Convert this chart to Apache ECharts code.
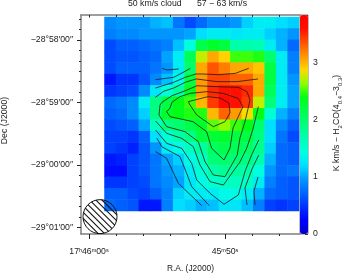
<!DOCTYPE html>
<html>
<head>
<meta charset="utf-8">
<style>html,body{margin:0;padding:0;background:#fff}#c{width:342px;height:273px}</style>
<script src="https://cdn.jsdelivr.net/npm/echarts@6/dist/echarts.min.js"></script>
</head>
<body>
<div id="c"></div>
<script>
// Integrated intensity (K km/s), one row per declination, top row first, columns in increasing pixel x
var row00=[.9,.95,.95,.95,1.05,1.1,.8,.6,.75,.9,.9,.95,1.15,1.3,1.3,1.2,1.15];
var row01=[.85,.9,.9,.95,.95,.95,.95,1.0,1.2,1.3,1.3,1.25,1.3,1.3,1.15,1.05,.95];
var row02=[.6,.7,.7,.75,.8,.85,1.1,1.45,2.15,2.3,2.2,1.7,1.7,1.65,1.3,1.05,.75];
var row03=[.6,.65,.65,.7,.75,1.0,1.3,2.1,2.75,3.05,2.9,2.5,2.5,2.45,2.0,1.3,.85];
var row04=[.6,.7,.7,.7,.8,.95,1.3,2.0,3.05,3.35,3.2,3.05,3.05,2.95,2.2,1.3,.85];
var row05=[.35,.5,.5,.65,.9,1.1,1.4,2.2,3.1,3.4,3.4,3.3,3.3,3.05,2.2,1.3,.95];
var row06=[.5,.55,.6,.9,1.25,1.5,1.75,2.35,3.1,3.5,3.6,3.6,3.5,3.05,2.1,1.3,1.0];
var row07=[.75,.8,.9,1.3,1.9,2.2,2.4,2.5,3.0,3.45,3.7,3.6,3.45,2.75,1.95,1.3,1.0];
var row08=[.7,.75,.9,1.15,1.9,2.3,2.4,2.45,2.45,3.0,3.3,3.1,2.85,2.4,1.5,1.05,.85];
var row09=[.6,.65,.7,1.0,1.6,1.9,2.0,2.15,2.3,2.55,2.65,2.5,2.4,2.0,1.2,.9,.7];
var row10=[.55,.55,.5,.7,1.2,1.5,1.7,1.85,2.2,2.25,2.3,2.2,2.2,1.9,1.2,.8,.6];
var row11=[.55,.5,.4,.65,.95,1.3,1.4,1.6,1.75,2.05,2.15,2.1,2.05,1.85,1.15,.75,.7];
var row12=[.35,.4,.55,.65,.8,1.0,1.15,1.4,1.6,1.95,2.0,1.95,1.9,1.7,1.05,.75,.7];
var row13=[.3,.3,.55,.65,.8,.95,1.05,1.3,1.5,1.7,1.8,1.75,1.7,1.45,.95,.75,.8];
var row14=[.5,.5,.55,.6,.8,.9,1.0,1.25,1.4,1.55,1.6,1.6,1.6,1.3,.85,.7,.65];
var row15=[.7,.7,.6,.55,.7,.85,1.15,1.3,1.3,1.3,1.4,1.4,1.3,1.05,.75,.7,.65];
var row16=[.75,.7,.65,.35,.35,.85,1.2,1.15,1.05,1.1,1.25,1.25,1.1,.85,.55,.5,.55];
var rows=[row00,row01,row02,row03,row04,row05,row06,row07,row08,row09,row10,row11,row12,row13,row14,row15,row16];

// Contours: [R.A. seconds after 17h45m, Dec arcsec from -29d00m]
var cA=[[54.63,92.8],[54.26,91.2],[53.40,92.2]];
var cB=[[55.12,81.9],[53.77,84.2],[53.16,88.3],[52.55,92.8]];
var cC=[[55.12,73.9],[53.77,79.4],[52.92,84.2],[52.13,87.4],[51.69,87.4],[50.46,86.7],[49.24,88],[48.26,92.8]];
var cD=[[55.12,65],[54.51,70.8],[53.77,73.9],[52.92,79.4],[52.13,82.6],[51.69,81.9],[50.59,80],[49.12,80],[47.57,82.6]];
var cE=[[52.06,76.1],[52.92,71.3],[53.90,66.5],[54.63,60.2],[54.78,57.6],[54.85,48],[54.29,36.8],[52.94,32],[51.96,22.4],[51.47,3.2],[50.86,-9.6],[50,-11.2],[49.10,9.6],[48.90,25.9],[48.53,41.6],[48.16,62.4],[48.38,70.4],[49.04,74.6],[50.59,75.2],[52.06,76.1]];
var cF=[[51.32,70.4],[52.57,68.8],[53.31,65.6],[53.90,60.2],[54.04,54.7],[54.29,51.2],[54.04,46.4],[52.35,41.6],[51.35,32],[50.98,16],[50.07,4.8],[49.63,16.3],[49.41,35.5],[48.97,48],[48.68,56],[49.04,64],[50.15,68.8],[51.32,70.4]];
var cI=[[52.57,57.6],[52.08,48],[50.86,36.8],[50,41.6],[49.63,50],[49.71,59.5],[50.37,64.3],[51.25,65.6],[52.70,60.8],[52.57,57.6]];
var cH=[[55.10,42.2],[54.29,30.4],[53.18,25.6],[52.33,17.6],[51.84,0],[51.10,-16],[50.12,-19.2],[48.90,2.9],[48.40,16.3],[47.96,33.6],[47.55,56]];
var cG=[[55.10,33.6],[54.29,20.8],[53.18,16],[52.45,1.6],[52.08,-14.4],[51.10,-27.2],[50.07,-37.7],[49.02,-28.8],[48.51,-5.5],[48.01,10.6],[47.52,24]];
var cJ=[[55.02,25.9],[54.65,17.6],[53.31,8],[52.82,-8],[52.45,-20.8],[51.15,-39]];
var cK=[[55.10,12.8],[54.29,6.4],[53.43,-17.6],[51.71,-39]];
var cL=[[48.38,-38.4],[48.53,-22],[48.01,-3.8],[47.52,9.6]];
var cM=[[47.79,-38.4],[47.87,-25],[47.57,-11.5]];
var contours=[cA,cB,cC,cD,cE,cF,cI,cH,cG,cJ,cK,cL,cM];

var beam=[[59.19,-49.6]];
var raTicks=[60,58,56,54,52,50,48,46];
var raMajor=[60,50];
var decMajor=[120,60,0,-60];
var decMinor=[140,130,120,110,100,90,80,70,60,50,40,30,20,10,0,-10,-20,-30,-40,-50,-60];
var decLabels={'120':'\u221228\u00b058\u203200\u2033','60':'\u221228\u00b059\u203200\u2033','0':'\u221229\u00b000\u203200\u2033','-60':'\u221229\u00b001\u203200\u2033'};
var rampColors=['#0000c8','#0000ff','#0031ff','#0064ff','#0097ff','#00dfff','#00ffe1','#00ffaf','#00ff7c','#00ff49','#00ff15','#8fff00','#ffd900','#ff9400','#ff5200','#ff1000','#ff0000'];

var cells=[];
rows.forEach(function(r,j){r.forEach(function(v,i){cells.push([i,j,v]);});});
var idx=[];for(var n=0;n<17;n++)idx.push(n);

var FONT='"Liberation Sans"';
var FS=8.7;
var TXT='#222';
var FR='#7f7f7f';
var sup={fontSize:5.5,fontFamily:FONT,color:TXT,verticalAlign:'top',lineHeight:10};
var xMin=60.588,xMax=44.485,yMax=144,yMin=-66.24;

var series=[{
  type:'heatmap',xAxisIndex:0,yAxisIndex:0,data:cells,silent:true,itemStyle:{borderWidth:0},progressive:0
}];
contours.forEach(function(c){
  series.push({type:'line',xAxisIndex:2,yAxisIndex:1,data:c,symbol:'none',silent:true,z:5,
    lineStyle:{color:'#1a1a1a',width:0.8},clip:false});
});
// Beam: outlined circle with diagonal hatching, placed through the axes
series.push({type:'custom',xAxisIndex:2,yAxisIndex:1,data:beam,z:6,silent:true,clip:false,
  renderItem:function(params,api){
    var c=api.coord([api.value(0),api.value(1)]);
    var r=17,gap=4.4,kids=[];
    kids.push({type:'circle',shape:{cx:c[0],cy:c[1],r:r},style:{fill:'rgba(255,255,255,0)',stroke:'#111',lineWidth:1}});
    for(var k=-3;k<=3;k++){
      var d=k*gap,h=Math.sqrt(r*r-d*d),s=Math.SQRT1_2;
      var mx=c[0]+d*s,my=c[1]-d*s;
      kids.push({type:'line',shape:{x1:mx-h*s,y1:my-h*s,x2:mx+h*s,y2:my+h*s},style:{stroke:'#111',lineWidth:1.1}});
    }
    return {type:'group',children:kids};
  }});

var option={
  animation:false,backgroundColor:'#fff',
  grid:[
    {left:104.5,top:17,width:194.5,height:194,outerBoundsMode:'none'},
    {left:81,top:15,width:219,height:219,outerBoundsMode:'none'},
    {left:300,top:15,width:8,height:219,show:true,borderColor:FR,borderWidth:1,backgroundColor:'transparent',outerBoundsMode:'none'}
  ],
  xAxis:[
    {type:'category',gridIndex:0,data:idx,show:false},
    {type:'value',gridIndex:2,show:false,min:0,max:1},
    {type:'value',gridIndex:1,position:'bottom',inverse:true,min:xMax,max:xMin,
      axisLine:{show:true,onZero:false,lineStyle:{color:FR,width:1.5}},
      axisTick:{show:true,customValues:raMajor,length:5,lineStyle:{color:'#222',width:1}},
      axisLabel:{show:true,customValues:raMajor,margin:13,fontFamily:FONT,fontSize:FS,color:TXT,hideOverlap:false,
        showMinLabel:true,showMaxLabel:true,
        formatter:function(v){return Math.round(v)===60?'17{s|h}46{s|m}00{s|s}':'45{s|m}50{s|s}';},
        rich:{s:sup}},
      splitLine:{show:false},
      name:'R.A. (J2000)',nameLocation:'middle',nameGap:31,nameMoveOverlap:false,nameTextStyle:{fontFamily:FONT,fontSize:8.4,color:TXT}},
    {type:'value',gridIndex:1,position:'bottom',inverse:true,min:xMax,max:xMin,
      axisLine:{show:false,onZero:false},axisLabel:{show:false},splitLine:{show:false},
      axisTick:{show:true,customValues:raTicks,length:2,lineStyle:{color:'#222',width:1}}},
    {type:'value',gridIndex:1,position:'top',inverse:true,min:xMax,max:xMin,
      axisLine:{show:true,onZero:false,lineStyle:{color:FR,width:1.5}},axisLabel:{show:false},splitLine:{show:false},
      axisTick:{show:true,inside:true,customValues:raTicks,length:2.5,lineStyle:{color:'#222',width:1}}}
  ],
  yAxis:[
    {type:'category',gridIndex:0,data:idx,inverse:true,show:false},
    {type:'value',gridIndex:1,position:'left',min:yMin,max:yMax,
      axisLine:{show:true,onZero:false,lineStyle:{color:FR,width:1.5}},
      axisTick:{show:true,customValues:decMajor,length:4,lineStyle:{color:'#222',width:1}},
      axisLabel:{show:true,customValues:decMajor,margin:8,fontFamily:FONT,fontSize:FS,color:TXT,
        formatter:function(v){return decLabels[String(Math.round(v))];}},
      splitLine:{show:false}},
    {type:'value',gridIndex:1,position:'left',min:yMin,max:yMax,
      axisLine:{show:false,onZero:false},axisLabel:{show:false},splitLine:{show:false},
      axisTick:{show:true,customValues:decMinor,length:2,lineStyle:{color:'#222',width:1}}},
    {type:'value',gridIndex:2,position:'right',min:0,max:3.84,interval:1,
      axisLine:{show:false,onZero:false},splitLine:{show:false},
      axisTick:{show:true,inside:true,length:3,lineStyle:{color:'#333',width:1}},
      minorTick:{show:true,splitNumber:5,length:2,lineStyle:{color:'#333',width:1}},
      axisLabel:{show:true,margin:5,fontFamily:FONT,fontSize:FS,color:TXT,showMaxLabel:false,
        formatter:function(v){return String(v);}}}
  ],
  visualMap:{type:'continuous',seriesIndex:0,min:0,max:3.84,left:300,top:15,itemWidth:8,itemHeight:219,
    calculable:false,realtime:false,text:null,showLabel:false,padding:0,hoverLink:false,
    inRange:{color:rampColors},textStyle:{fontSize:1,color:'transparent'},z:1},
  graphic:[
    {type:'text',x:128,y:4,style:{text:'50 km/s cloud',fontFamily:FONT,fontSize:FS,fill:TXT,verticalAlign:'middle'}},
    {type:'text',x:197,y:4,style:{text:'57 \u2212 63 km/s',fontFamily:FONT,fontSize:FS,fill:TXT,verticalAlign:'middle'}},
    {type:'text',x:4.5,y:120.5,rotation:Math.PI/2,style:{text:'Dec (J2000)',fontFamily:FONT,fontSize:FS,fill:TXT,align:'center',verticalAlign:'middle'}},
    {type:'text',x:337,y:123,rotation:Math.PI/2,style:{
      text:'K km/s \u2212 H{b|2}CO(4{b|0,4}\u22123{b|0,3})',fontFamily:FONT,fontSize:FS,fill:TXT,align:'center',verticalAlign:'middle',
      rich:{b:{fontSize:6,fontFamily:FONT,fill:TXT,verticalAlign:'bottom',lineHeight:12}}}}
  ],
  series:series
};
var chart=echarts.init(document.getElementById('c'),null,{renderer:'canvas',width:342,height:273});
chart.setOption(option);
</script>
</body>
</html>
